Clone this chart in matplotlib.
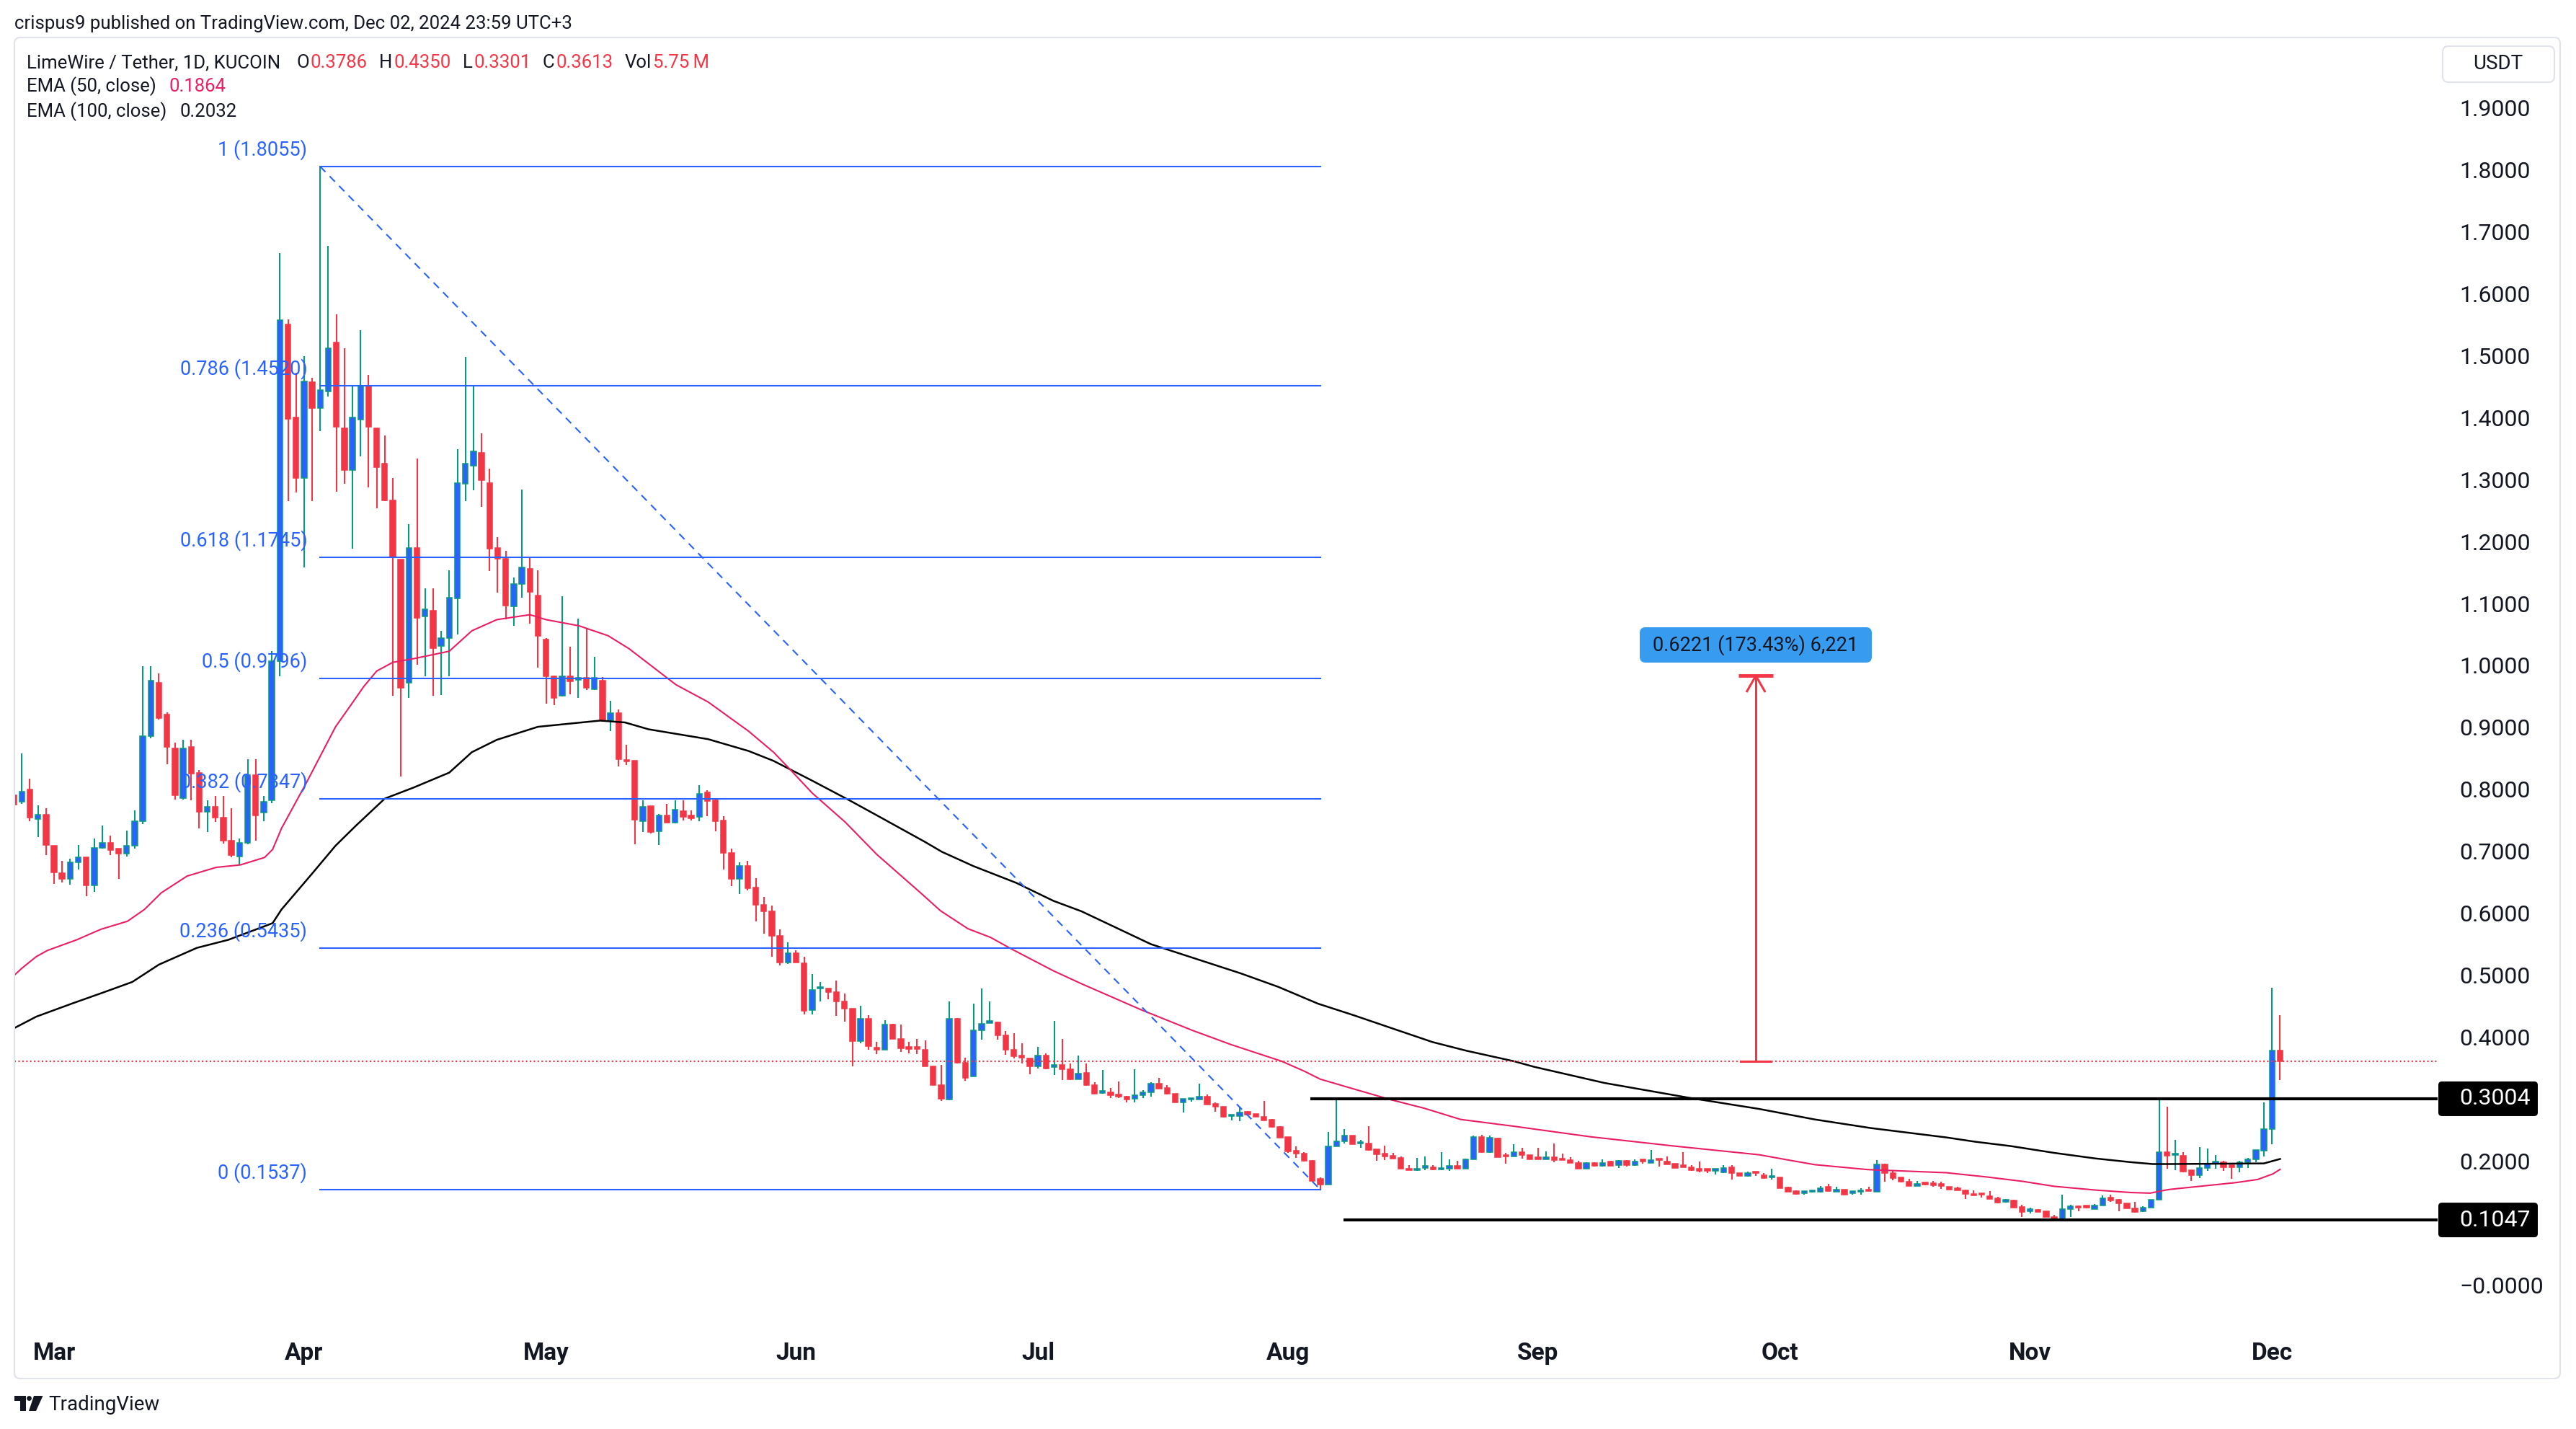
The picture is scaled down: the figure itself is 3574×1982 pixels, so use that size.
"""LimeWire / Tether daily chart (KUCOIN) with fib retracement, EMA 50/100 and support lines."""

import matplotlib
matplotlib.use("Agg")
import matplotlib.pyplot as plt
import matplotlib.dates as mdates
from matplotlib.patches import FancyBboxPatch, Polygon, Circle, Rectangle
from matplotlib.transforms import IdentityTransform
import numpy as np
import pandas as pd

plt.rcParams["font.family"] = ["Roboto", "DejaVu Sans"]

# ---- data ----------------------------------------------------------------
FIRST_DAY = "2024-02-25"

opens = [
    0.790, 0.780, 0.800, 0.752, 0.759, 0.709, 0.665, 0.655, 0.682, 0.690,
    0.645, 0.706, 0.714, 0.704, 0.696, 0.709, 0.748, 0.886, 0.972, 0.921,
    0.866, 0.786, 0.868, 0.827, 0.764, 0.772, 0.754, 0.717, 0.691, 0.714,
    0.823, 0.763, 0.782, 1.007, 1.551, 1.400, 1.303, 1.457, 1.416, 1.442,
    1.522, 1.383, 1.316, 1.397, 1.451, 1.383, 1.326, 1.267, 1.171, 0.972,
    1.190, 1.079, 1.089, 1.031, 1.044, 1.108, 1.293, 1.322, 1.344, 1.295,
    1.190, 1.172, 1.095, 1.132, 1.156, 1.113, 1.042, 0.983, 0.951, 0.983,
    0.977, 0.980, 0.962, 0.976, 0.912, 0.923, 0.848, 0.846, 0.748,
    0.773, 0.732, 0.758, 0.746, 0.765, 0.758, 0.756, 0.795, 0.782, 0.750,
    0.697, 0.655, 0.676, 0.642, 0.613, 0.603, 0.564, 0.520, 0.536, 0.519,
    0.443, 0.478, 0.479, 0.473, 0.458, 0.446, 0.393, 0.430, 0.383, 0.380,
    0.420, 0.397, 0.383, 0.383, 0.379, 0.353, 0.323, 0.299, 0.430, 0.358,
    0.337, 0.411, 0.423, 0.424, 0.403, 0.379, 0.368, 0.366, 0.353, 0.370,
    0.351, 0.355, 0.348, 0.332,
    0.342, 0.323, 0.310, 0.311, 0.306, 0.304, 0.300, 0.306, 0.311, 0.325,
    0.318, 0.309, 0.295, 0.299, 0.299, 0.304, 0.292, 0.287, 0.272, 0.272,
    0.279, 0.276, 0.271, 0.267, 0.255, 0.239, 0.217, 0.212, 0.200, 0.171,
    0.162, 0.224, 0.232, 0.241, 0.228, 0.228, 0.219, 0.212, 0.208, 0.205,
    0.188, 0.185, 0.189, 0.190, 0.186, 0.188, 0.192, 0.188, 0.202, 0.239,
    0.214, 0.236, 0.208, 0.207,
    0.214, 0.209, 0.204, 0.202, 0.206, 0.202, 0.201, 0.197, 0.188, 0.197,
    0.192, 0.199, 0.193, 0.200, 0.193, 0.200, 0.197, 0.202, 0.199, 0.196,
    0.191, 0.190, 0.187, 0.185, 0.184, 0.182, 0.190, 0.180, 0.176, 0.182,
    0.177, 0.173, 0.173, 0.157, 0.151, 0.148, 0.150, 0.150, 0.158, 0.150,
    0.154, 0.148, 0.150, 0.153, 0.150, 0.194, 0.181, 0.174, 0.167, 0.159,
    0.164, 0.163, 0.161,
    0.158, 0.156, 0.153, 0.147, 0.147, 0.143, 0.140, 0.134, 0.136, 0.126,
    0.119, 0.121, 0.119, 0.110, 0.104, 0.122, 0.127, 0.126, 0.122, 0.128,
    0.141, 0.137, 0.131, 0.123, 0.119, 0.125, 0.137,
    0.214, 0.209, 0.208, 0.185, 0.177, 0.189, 0.196, 0.198, 0.192, 0.190,
    0.198, 0.203, 0.217, 0.251, 0.3786,
]

highs = [
    0.800, 0.858, 0.817, 0.774, 0.770, 0.709, 0.684, 0.688, 0.710, 0.690,
    0.721, 0.741, 0.725, 0.704, 0.733, 0.766, 0.999, 0.999, 0.987, 0.924,
    0.876, 0.880, 0.880, 0.831, 0.782, 0.789, 0.789, 0.770, 0.721, 0.849,
    0.849, 0.789, 1.023, 1.666, 1.559, 1.473, 1.500, 1.465, 1.8055, 1.677,
    1.567, 1.512, 1.451, 1.541, 1.469, 1.383, 1.371, 1.303, 1.171, 1.228,
    1.334, 1.124, 1.124, 1.056, 1.154, 1.349, 1.498, 1.451, 1.375, 1.318,
    1.207, 1.185, 1.142, 1.284, 1.175, 1.154, 1.044, 0.984, 1.112, 1.030,
    1.076, 1.059, 1.014, 0.981, 0.943, 0.929, 0.872, 0.846, 0.782,
    0.773, 0.760, 0.776, 0.782, 0.782, 0.766, 0.807, 0.799, 0.783, 0.757,
    0.704, 0.682, 0.685, 0.656, 0.626, 0.612, 0.574, 0.553, 0.540, 0.530,
    0.502, 0.489, 0.479, 0.491, 0.470, 0.446, 0.451, 0.435, 0.392, 0.427,
    0.422, 0.420, 0.392, 0.397, 0.395, 0.353, 0.355, 0.458, 0.431, 0.367,
    0.454, 0.479, 0.458, 0.425, 0.410, 0.406, 0.390, 0.366, 0.384, 0.374,
    0.426, 0.397, 0.357, 0.370,
    0.357, 0.327, 0.347, 0.318, 0.328, 0.305, 0.348, 0.314, 0.327, 0.334,
    0.323, 0.309, 0.300, 0.302, 0.325, 0.307, 0.295, 0.288, 0.275, 0.287,
    0.281, 0.276, 0.297, 0.268, 0.256, 0.239, 0.224, 0.214, 0.201, 0.173,
    0.247, 0.300, 0.251, 0.241, 0.234, 0.256, 0.219, 0.225, 0.213, 0.207,
    0.193, 0.205, 0.207, 0.193, 0.214, 0.203, 0.200, 0.204, 0.241, 0.242,
    0.241, 0.238, 0.213, 0.227,
    0.221, 0.210, 0.221, 0.215, 0.228, 0.212, 0.206, 0.200, 0.198, 0.198,
    0.203, 0.200, 0.201, 0.201, 0.203, 0.200, 0.218, 0.202, 0.207, 0.196,
    0.214, 0.193, 0.199, 0.186, 0.187, 0.193, 0.193, 0.180, 0.183, 0.182,
    0.180, 0.187, 0.174, 0.158, 0.152, 0.151, 0.152, 0.160, 0.163, 0.158,
    0.154, 0.151, 0.156, 0.158, 0.201, 0.195, 0.184, 0.174, 0.171, 0.168,
    0.165, 0.168, 0.166,
    0.158, 0.158, 0.154, 0.152, 0.147, 0.151, 0.142, 0.138, 0.137, 0.129,
    0.124, 0.122, 0.119, 0.113, 0.146, 0.129, 0.128, 0.127, 0.130, 0.144,
    0.146, 0.138, 0.131, 0.134, 0.127, 0.137, 0.300,
    0.288, 0.234, 0.214, 0.185, 0.222, 0.220, 0.209, 0.200, 0.192, 0.200,
    0.205, 0.218, 0.295, 0.480, 0.4350,
]

lows = [
    0.760, 0.776, 0.749, 0.723, 0.694, 0.647, 0.650, 0.646, 0.670, 0.627,
    0.635, 0.704, 0.694, 0.655, 0.691, 0.704, 0.744, 0.883, 0.913, 0.841,
    0.784, 0.784, 0.782, 0.737, 0.731, 0.747, 0.713, 0.690, 0.678, 0.711,
    0.717, 0.749, 0.778, 0.983, 1.265, 1.279, 1.158, 1.266, 1.378, 1.434,
    1.281, 1.293, 1.189, 1.338, 1.288, 1.254, 1.265, 0.951, 0.821, 0.948,
    1.001, 0.982, 0.951, 0.952, 0.983, 1.050, 1.265, 1.283, 1.256, 1.152,
    1.118, 1.074, 1.064, 1.109, 1.068, 0.997, 0.938, 0.936, 0.950, 0.954,
    0.948, 0.960, 0.960, 0.911, 0.894, 0.837, 0.839, 0.711, 0.731,
    0.729, 0.710, 0.746, 0.745, 0.750, 0.750, 0.749, 0.757, 0.732, 0.670,
    0.644, 0.631, 0.637, 0.587, 0.567, 0.530, 0.516, 0.518, 0.520, 0.437,
    0.437, 0.458, 0.461, 0.434, 0.425, 0.353, 0.390, 0.380, 0.372, 0.379,
    0.397, 0.376, 0.374, 0.373, 0.353, 0.322, 0.297, 0.298, 0.357, 0.329,
    0.336, 0.396, 0.423, 0.396, 0.371, 0.365, 0.357, 0.340, 0.349, 0.348,
    0.339, 0.331, 0.331, 0.332,
    0.321, 0.308, 0.308, 0.301, 0.301, 0.295, 0.295, 0.302, 0.304, 0.317,
    0.307, 0.294, 0.278, 0.296, 0.299, 0.291, 0.279, 0.270, 0.265, 0.264,
    0.273, 0.271, 0.265, 0.254, 0.237, 0.213, 0.205, 0.199, 0.167, 0.1537,
    0.162, 0.223, 0.228, 0.227, 0.221, 0.217, 0.200, 0.201, 0.204, 0.187,
    0.185, 0.184, 0.185, 0.185, 0.185, 0.184, 0.187, 0.187, 0.202, 0.213,
    0.213, 0.206, 0.196, 0.207,
    0.204, 0.203, 0.203, 0.202, 0.198, 0.201, 0.197, 0.188, 0.188, 0.191,
    0.191, 0.192, 0.189, 0.191, 0.192, 0.196, 0.197, 0.191, 0.194, 0.189,
    0.190, 0.184, 0.182, 0.181, 0.178, 0.181, 0.170, 0.176, 0.175, 0.176,
    0.172, 0.170, 0.156, 0.150, 0.146, 0.146, 0.149, 0.149, 0.151, 0.150,
    0.146, 0.146, 0.146, 0.151, 0.150, 0.166, 0.169, 0.165, 0.159, 0.159,
    0.161, 0.158, 0.155,
    0.154, 0.152, 0.139, 0.144, 0.141, 0.138, 0.131, 0.133, 0.125, 0.110,
    0.115, 0.118, 0.110, 0.1035, 0.1035, 0.110, 0.119, 0.123, 0.122, 0.128,
    0.134, 0.119, 0.123, 0.116, 0.118, 0.125, 0.137,
    0.187, 0.185, 0.182, 0.168, 0.172, 0.184, 0.187, 0.184, 0.171, 0.182,
    0.189, 0.198, 0.207, 0.227, 0.3301,
]

closes = [
    0.775, 0.796, 0.754, 0.759, 0.710, 0.666, 0.655, 0.682, 0.690, 0.645,
    0.706, 0.714, 0.702, 0.696, 0.709, 0.749, 0.886, 0.976, 0.915, 0.868,
    0.790, 0.866, 0.825, 0.764, 0.772, 0.754, 0.717, 0.694, 0.714, 0.823,
    0.758, 0.780, 1.007, 1.558, 1.398, 1.303, 1.459, 1.416, 1.445, 1.512,
    1.385, 1.316, 1.400, 1.451, 1.385, 1.320, 1.267, 1.175, 0.964, 1.190,
    1.077, 1.091, 1.028, 1.044, 1.109, 1.295, 1.326, 1.346, 1.299, 1.189,
    1.172, 1.097, 1.131, 1.158, 1.119, 1.048, 0.982, 0.948, 0.983, 0.974,
    0.980, 0.964, 0.980, 0.912, 0.923, 0.849, 0.845, 0.751, 0.772,
    0.731, 0.758, 0.746, 0.767, 0.756, 0.753, 0.793, 0.781, 0.749, 0.697,
    0.655, 0.676, 0.640, 0.614, 0.603, 0.563, 0.520, 0.536, 0.520, 0.442,
    0.476, 0.480, 0.473, 0.458, 0.446, 0.393, 0.430, 0.385, 0.380, 0.420,
    0.397, 0.382, 0.381, 0.381, 0.353, 0.323, 0.300, 0.430, 0.358, 0.334,
    0.411, 0.422, 0.425, 0.403, 0.379, 0.369, 0.367, 0.353, 0.370, 0.349,
    0.355, 0.348, 0.332, 0.341,
    0.323, 0.309, 0.312, 0.306, 0.304, 0.299, 0.306, 0.311, 0.325, 0.317,
    0.308, 0.294, 0.300, 0.300, 0.304, 0.291, 0.288, 0.271, 0.274, 0.278,
    0.275, 0.271, 0.265, 0.255, 0.238, 0.215, 0.212, 0.200, 0.168, 0.162,
    0.224, 0.232, 0.241, 0.227, 0.229, 0.218, 0.211, 0.207, 0.204, 0.188,
    0.185, 0.188, 0.190, 0.186, 0.188, 0.192, 0.187, 0.202, 0.239, 0.214,
    0.237, 0.206, 0.207, 0.214,
    0.209, 0.203, 0.203, 0.206, 0.201, 0.201, 0.197, 0.188, 0.197, 0.192,
    0.197, 0.192, 0.200, 0.193, 0.199, 0.199, 0.201, 0.201, 0.194, 0.189,
    0.190, 0.185, 0.184, 0.184, 0.185, 0.189, 0.180, 0.176, 0.181, 0.180,
    0.172, 0.174, 0.156, 0.150, 0.147, 0.150, 0.152, 0.156, 0.151, 0.154,
    0.146, 0.150, 0.153, 0.151, 0.194, 0.180, 0.172, 0.166, 0.159, 0.163,
    0.162, 0.161, 0.160,
    0.154, 0.153, 0.147, 0.144, 0.145, 0.139, 0.133, 0.137, 0.125, 0.117,
    0.121, 0.118, 0.110, 0.104, 0.122, 0.127, 0.124, 0.125, 0.128, 0.140,
    0.136, 0.131, 0.123, 0.118, 0.124, 0.137, 0.214,
    0.208, 0.211, 0.183, 0.177, 0.189, 0.196, 0.199, 0.190, 0.190, 0.198,
    0.203, 0.218, 0.251, 0.3786, 0.3613,
]

# EMA curves, sampled along the drawn lines (day = days after 2024-03-01)
ema50_day = [
    -5, -4, -2.2, -0.8, 2.8, 5.8, 9.1, 11.2, 13.3, 16.5, 20.1, 23.1, 26.1, 27.1,
    28.2, 31.3, 34.9, 36.9, 38.4, 40.0, 42.0, 44.6, 49.0, 51.8, 54.9, 59.0,
    61.0, 65.1, 68.7, 71.3, 73.7, 77.1, 81.1, 86.1, 89.2, 91.2, 94.0, 98.1,
    102.0, 107.6, 109.9, 113.3, 116.1, 118.6, 123.9, 127.4, 134.8, 141.1,
    145.9, 152.2, 155.0, 157.0, 161.2, 165.7, 169.9, 174.4, 181.0, 190.5,
    200.9, 211.4, 214.8, 218.3, 224.9, 234.6, 239.7, 244.1, 248.0, 253.1,
    257.5, 259.9, 261.4, 262.3, 270.5, 273.2, 275.1, 276,
]
ema50_val = [
    0.499, 0.511, 0.530, 0.540, 0.557, 0.574, 0.587, 0.606, 0.633, 0.660, 0.674,
    0.678, 0.690, 0.703, 0.737, 0.811, 0.901, 0.938, 0.966, 0.991, 1.005,
    1.011, 1.023, 1.056, 1.074, 1.082, 1.074, 1.064, 1.048, 1.027, 1.003,
    0.969, 0.941, 0.894, 0.860, 0.833, 0.794, 0.747, 0.695, 0.631, 0.604,
    0.575, 0.561, 0.543, 0.507, 0.486, 0.444, 0.411, 0.388, 0.361, 0.345,
    0.332, 0.316, 0.299, 0.285, 0.267, 0.256, 0.239, 0.224, 0.210, 0.202,
    0.194, 0.186, 0.181, 0.174, 0.167, 0.159, 0.153, 0.149, 0.148, 0.152,
    0.154, 0.165, 0.170, 0.179, 0.1864,
]
ema100_day = [
    -5, -2.2, 2.2, 6.1, 9.7, 13.0, 17.7, 21.6, 26.1, 27.1, 28.2, 32.0, 34.9,
    37.4, 41.0, 44.6, 49.0, 51.8, 54.9, 60.0, 67.7, 70.8, 73.7, 81.1, 86.1,
    89.2, 94.0, 98.8, 102.3, 108.0, 110.1, 114.0, 119.3, 123.9, 127.4, 136.0,
    147.1, 151.8, 156.7, 161.2, 165.7, 170.9, 175.1, 181.0, 183.5, 192.2,
    202.7, 211.4, 218.3, 225.3, 234.6, 238.2, 242.6, 248.0, 253.1, 257.5,
    260.2, 262.3, 274.0, 276,
]
ema100_val = [
    0.414, 0.433, 0.454, 0.472, 0.489, 0.517, 0.544, 0.557, 0.579, 0.584, 0.606,
    0.664, 0.709, 0.741, 0.785, 0.803, 0.827, 0.860, 0.880, 0.901, 0.911,
    0.908, 0.897, 0.881, 0.862, 0.846, 0.814, 0.781, 0.756, 0.715, 0.699,
    0.676, 0.649, 0.620, 0.603, 0.550, 0.503, 0.481, 0.454, 0.435, 0.415,
    0.392, 0.378, 0.361, 0.352, 0.326, 0.302, 0.284, 0.267, 0.253, 0.238,
    0.231, 0.224, 0.213, 0.204, 0.198, 0.195, 0.195, 0.196, 0.2032,
]

fib_ratio = ["1", "0.786", "0.618", "0.5", "0.382", "0.236", "0"]
fib_price = [1.8055, 1.4520, 1.1745, 0.9796, 0.7847, 0.5435, 0.1537]
fib_from, fib_to = "2024-04-03", "2024-08-05"

support_price = [0.3004, 0.1047]
support_from_day = [155.8, 159.9]
last_price = 0.3613
measure_day, measure_to = 211.0, 0.9834
measure_text = "0.6221 (173.43%) 6,221"

legend_pairs = [("O", "0.3786"), ("H", "0.4350"), ("L", "0.3301"),
                ("C", "0.3613"), ("Vol", "5.75\u2009M")]

price_ticks = [0.0, 0.2, 0.4, 0.5, 0.6, 0.7, 0.8, 0.9, 1.0, 1.1, 1.2,
               1.3, 1.4, 1.5, 1.6, 1.7, 1.8, 1.9]

# ---- layout (pixels of the 3574x1982 canvas) -----------------------------
W, H = 3574, 1982
AX_L, AX_R, AX_T, AX_B = 20, 3382, 52, 1838
ZERO_Y, PX_PER_UNIT = 1782, 859.0
MAR1_X, PX_PER_DAY = 75, 11.19

DARK = "#131722"
RED = "#F23645"
TEAL = "#089981"
BLUE = "#2962FF"
PINK = "#E91E63"
PX = IdentityTransform()


def p2y(price):
    return ZERO_Y - price * PX_PER_UNIT


def fig_text(x, y, s, **kw):
    kw.setdefault("color", DARK)
    kw.setdefault("va", "center")
    return fig.text(x / W, 1 - y / H, s, **kw)


fig = plt.figure(figsize=(W / 100, H / 100), dpi=100, facecolor="white")
renderer = fig.canvas.get_renderer()
ax = fig.add_axes([AX_L / W, 1 - AX_B / H, (AX_R - AX_L) / W, (AX_B - AX_T) / H])
ax.set_facecolor("none")

mar1 = mdates.date2num(pd.Timestamp("2024-03-01"))
ax.set_xlim(mar1 + (AX_L - MAR1_X) / PX_PER_DAY, mar1 + (AX_R - MAR1_X) / PX_PER_DAY)
ax.set_ylim((ZERO_Y - AX_B) / PX_PER_UNIT, (ZERO_Y - AX_T) / PX_PER_UNIT)

# candles
days = mdates.date2num(pd.date_range(FIRST_DAY, periods=len(opens), freq="D"))
o, h, l, c = (np.array(v) for v in (opens, highs, lows, closes))
up = c >= o
wick_col = np.where(up, TEAL, RED)
ax.vlines(days, l, h, colors=wick_col, linewidth=1.5, zorder=2)
bottom = np.minimum(o, c)
height = np.maximum(np.abs(c - o), 0.003)
ax.bar(days, height, bottom=bottom, width=0.66, color=np.where(up, BLUE, RED),
       edgecolor=wick_col, linewidth=1.1, zorder=3)

# EMAs
ax.plot(mar1 + np.array(ema100_day), ema100_val, color="black", lw=1.8, zorder=4)
ax.plot(mar1 + np.array(ema50_day), ema50_val, color=PINK, lw=1.5, zorder=4)

# last price
ax.axhline(last_price, color=RED, lw=1.5, ls=(0, (1, 1.6)), zorder=4)

# fib retracement
f0 = mdates.date2num(pd.Timestamp(fib_from))
f1 = mdates.date2num(pd.Timestamp(fib_to))
for ratio, price in zip(fib_ratio, fib_price):
    ax.plot([f0, f1], [price, price], color=BLUE, lw=1.5, zorder=5)
    ax.text(f0 - 1.6, price + 0.027, f"{ratio} ({price:.4f})", color=BLUE,
            fontsize=19.5, ha="right", va="center", zorder=6)
ax.plot([f0, f1], [fib_price[0], fib_price[-1]], color=BLUE, lw=1.5,
        ls=(0, (5, 4)), zorder=5)

# support / resistance lines
for price, start in zip(support_price, support_from_day):
    ax.plot([mar1 + start, ax.get_xlim()[1]], [price, price], color="black",
            lw=3.0, zorder=5, solid_capstyle="butt")

# measure arrow
mx = mar1 + measure_day
ax.plot([mx, mx], [last_price, measure_to], color=RED, lw=2.2, zorder=6)
ax.plot([mx - 1.85, mx + 1.85], [last_price, last_price], color=RED, lw=2.2, zorder=6)
ax.plot([mx - 2.15, mx + 2.15], [measure_to, measure_to], color=RED, lw=3.5,
        zorder=6, solid_capstyle="butt")
ax.plot([mx - 1.1, mx, mx + 1.1], [measure_to - 0.025, measure_to, measure_to - 0.025],
        color=RED, lw=2.2, zorder=6)
box = FancyBboxPatch((2275, H - 919), 322, 49, boxstyle="round,pad=0,rounding_size=8",
                     fc="#379cf0", ec="none", transform=PX, zorder=10)
fig.add_artist(box)
fig_text(2436, 895, measure_text, fontsize=19.5, ha="center", zorder=11)

# axes styling
for s in ax.spines.values():
    s.set_visible(False)
ax.set_xticks([])
ax.yaxis.tick_right()
ax.set_yticks(price_ticks)
ax.set_yticklabels(["\u22120.0000" if t == 0 else f"{t:.4f}" for t in price_ticks])
ax.tick_params(axis="y", length=0, pad=21.6, labelsize=23, labelcolor=DARK)

months = pd.date_range("2024-03-01", "2024-12-01", freq="MS")
for m in months:
    ax.text(mdates.date2num(m), -(1877 - AX_B) / (AX_B - AX_T), m.strftime("%b"),
            transform=ax.get_xaxis_transform(), ha="center", va="center",
            fontsize=24, fontweight="semibold", color=DARK)

# price tags for the two horizontal lines
for price in support_price:
    yc = p2y(price)
    tag = FancyBboxPatch((3383, H - yc - 24), 138, 48,
                         boxstyle="round,pad=0,rounding_size=5",
                         fc="black", ec="none", transform=PX, zorder=10)
    fig.add_artist(tag)
    fig_text(3412, yc, f"{price:.4f}", fontsize=23, color="white", ha="left", zorder=11)

# pane frame and currency box
fig.add_artist(FancyBboxPatch((20, H - 1912), 3532, 1860,
                              boxstyle="round,pad=0,rounding_size=8",
                              fc="none", ec="#e0e3eb", lw=1.5, transform=PX))
fig.add_artist(FancyBboxPatch((3389, H - 114), 155, 50,
                              boxstyle="round,pad=0,rounding_size=8",
                              fc="white", ec="#e0e3eb", lw=1.5, transform=PX))
fig_text(3466, 89, "USDT", fontsize=20, ha="center")

# header
fig_text(20, 33, "crispus9 published on TradingView.com, Dec 02, 2024 23:59 UTC+3",
         fontsize=18.5)


def text_right(t):
    return t.get_window_extent(renderer).x1


LEG = 18.5
t = fig_text(37, 87, "LimeWire / Tether, 1D, KUCOIN", fontsize=LEG, ha="left")
x = text_right(t) + 22
for label, value in legend_pairs:
    t = fig_text(x, 87, label, fontsize=LEG, ha="left")
    t = fig_text(text_right(t) + 2, 87, value, fontsize=LEG, color=RED, ha="left")
    x = text_right(t) + 16

t = fig_text(37, 120, "EMA (50, close)", fontsize=LEG, ha="left")
fig_text(text_right(t) + 18, 120, "0.1864", fontsize=LEG, color=PINK, ha="left")
t = fig_text(37, 155, "EMA (100, close)", fontsize=LEG, ha="left")
fig_text(text_right(t) + 18, 155, "0.2032", fontsize=LEG, ha="left")

# TradingView logo
fig.add_artist(Rectangle((20, H - 1942.7), 16, 6.7, fc=DARK, ec="none", transform=PX))
fig.add_artist(Rectangle((28, H - 1957), 8, 15, fc=DARK, ec="none", transform=PX))
fig.add_artist(Circle((40.5, H - 1939.5), 3.4, fc=DARK, ec="none", transform=PX))
fig.add_artist(Polygon([(47, H - 1936), (59.5, H - 1936), (50, H - 1957), (40, H - 1957)],
                       closed=True, fc=DARK, ec="none", transform=PX))
fig_text(67, 1948, "TradingView", fontsize=20)

fig.savefig("out.png", dpi=100, facecolor="white")
